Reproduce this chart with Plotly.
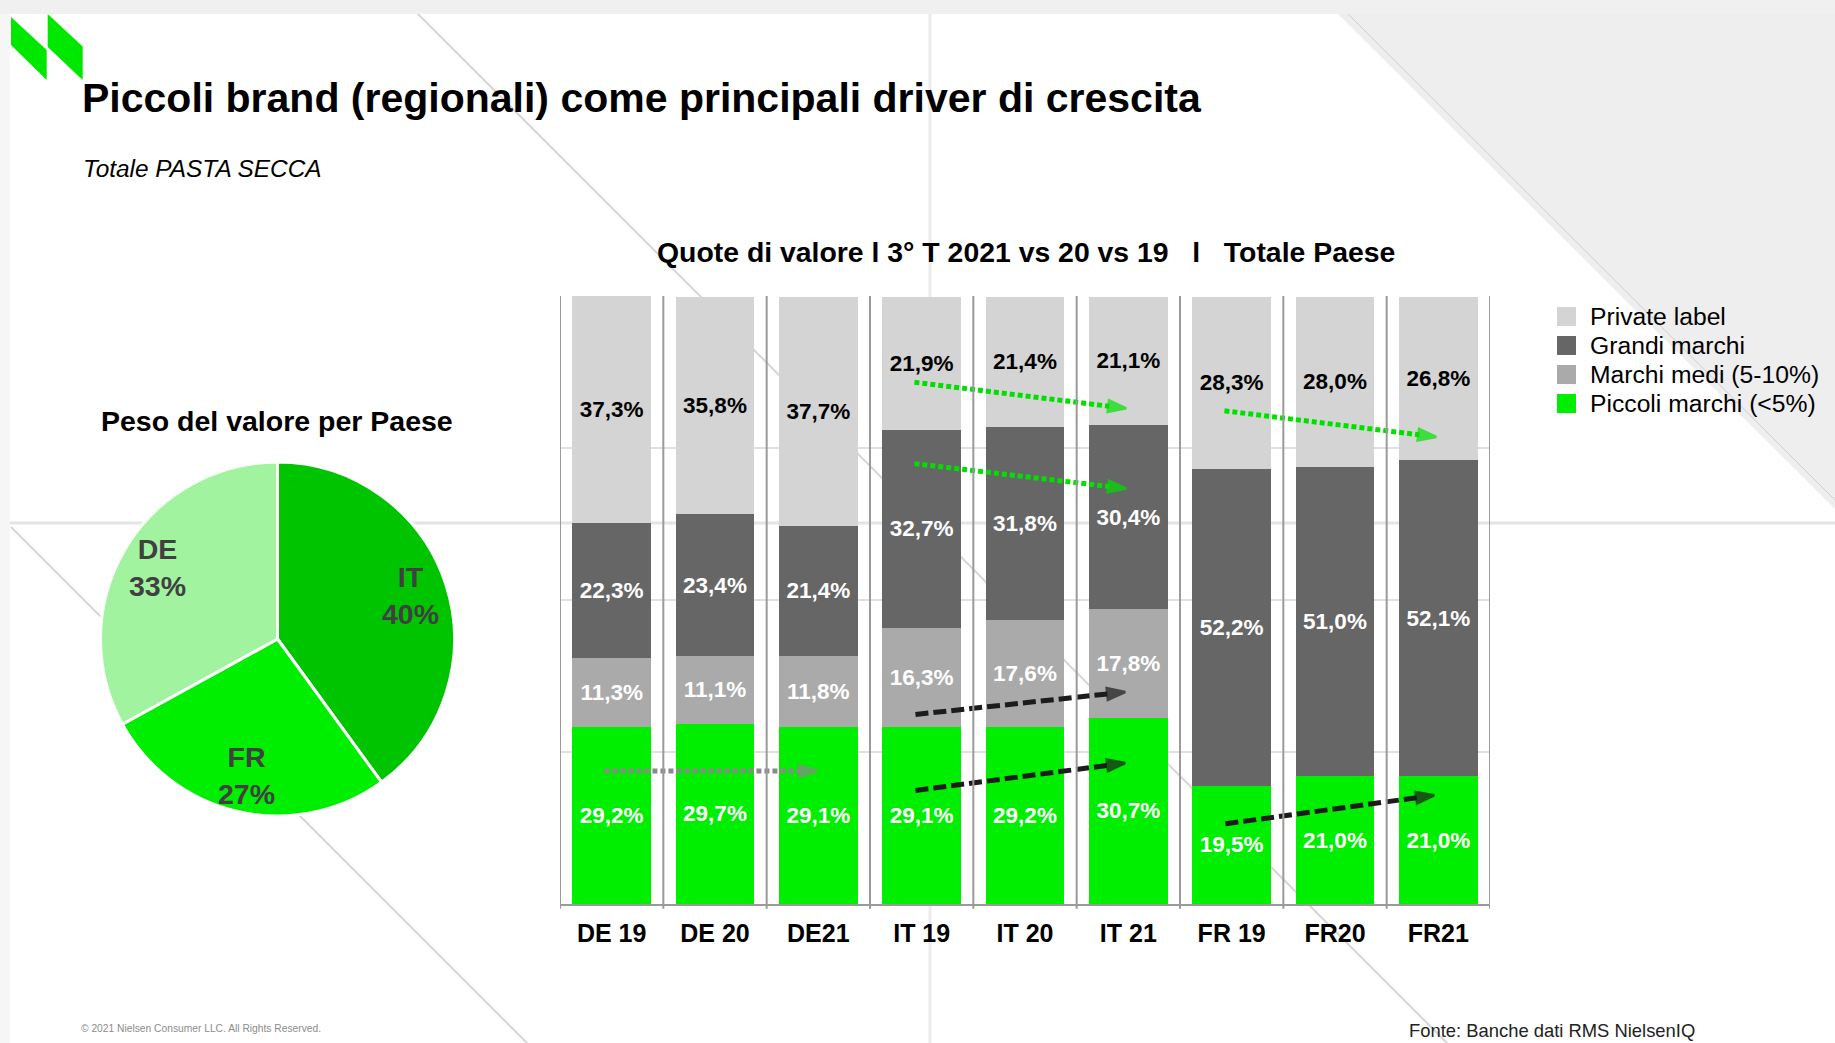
import math
import plotly.graph_objects as go

W, H = 1835, 1043
FONT = "Liberation Sans, Arial, Helvetica, sans-serif"

# ---------------- data ----------------
categories = ["DE 19", "DE 20", "DE21", "IT 19", "IT 20", "IT 21", "FR 19", "FR20", "FR21"]
series_names = ["Private label", "Grandi marchi", "Marchi medi (5-10%)", "Piccoli marchi (<5%)"]
piccoli = [29.2, 29.7, 29.1, 29.1, 29.2, 30.7, 19.5, 21.0, 21.0]
medi = [11.3, 11.1, 11.8, 16.3, 17.6, 17.8, None, None, None]
grandi = [22.3, 23.4, 21.4, 32.7, 31.8, 30.4, 52.2, 51.0, 52.1]
private = [37.3, 35.8, 37.7, 21.9, 21.4, 21.1, 28.3, 28.0, 26.8]

pie_labels = ["IT", "FR", "DE"]
pie_values = [40, 27, 33]

# trend arrows (category index, share %)
arrow_x0 = [-0.07, 2.94, 2.94, 5.94, 2.93, 2.93, 5.93]
arrow_y0 = [21.9, 31.2, 18.7, 13.2, 85.9, 72.5, 81.2]
arrow_x1 = [1.99, 4.97, 4.97, 7.96, 4.98, 4.98, 7.98]
arrow_y1 = [21.9, 34.9, 23.2, 17.9, 81.6, 68.4, 76.9]
arrow_kind = ["gray", "black", "black", "black", "green", "green", "green"]

# ---------------- styles ----------------
C_PRIV, C_GRANDI, C_MEDI, C_PICC = "#d4d4d4", "#666666", "#aaaaaa", "#00ee00"
series_colors = [C_PRIV, C_GRANDI, C_MEDI, C_PICC]
pie_colors = ["#00c400", "#00ee00", "#a2f3a0"]
arrow_styles = {
    "gray": dict(color="#8a8a8a", width=5, dash="5px,3px"),
    "black": dict(color="#1c1c1c", width=5, dash="13px,5px"),
    "green": dict(color="#00e000", width=5, dash="5px,3px"),
}


def fx(px):
    return px / W


def fy(py):
    return 1 - py / H


def fmt(v):
    return None if v is None else ("%.1f" % v).replace(".", ",") + "%"


fig = go.Figure()

xs = list(range(len(categories)))
stack = [
    (series_names[3], piccoli, C_PICC, "white"),
    (series_names[2], medi, C_MEDI, "white"),
    (series_names[1], grandi, C_GRANDI, "white"),
    (series_names[0], private, C_PRIV, "black"),
]
for name, vals, col, tcol in stack:
    fig.add_trace(go.Bar(
        x=xs, y=vals, name=name, width=0.764,
        marker=dict(color=col, line=dict(width=0)),
        text=[fmt(v) for v in vals], textposition="inside", insidetextanchor="middle",
        textangle=0, constraintext="none",
        textfont=dict(family=FONT, size=22.5, color=tcol, weight=700),
        hoverinfo="skip", showlegend=False,
    ))

for i in range(len(arrow_x0)):
    st = arrow_styles[arrow_kind[i]]
    fig.add_trace(go.Scatter(
        x=[arrow_x0[i], arrow_x1[i]], y=[arrow_y0[i], arrow_y1[i]],
        mode="lines+markers",
        line=dict(color=st["color"], width=st["width"], dash=st["dash"]),
        marker=dict(symbol="arrow", size=[0, 19], angleref="previous", color=st["color"],
                    line=dict(width=2.5, color=st["color"])),
        hoverinfo="skip", showlegend=False, cliponaxis=False,
    ))

# ---------------- pie ----------------
pcx, pcy, pr = 277.5, 639, 177
fig.add_trace(go.Pie(
    labels=pie_labels, values=pie_values, sort=False, direction="clockwise", rotation=0,
    marker=dict(colors=pie_colors, line=dict(color="white", width=3)),
    textinfo="none", hoverinfo="skip", showlegend=False,
    domain=dict(x=[fx(pcx - pr), fx(pcx + pr)], y=[fy(pcy + pr), fy(pcy - pr)]),
))

annotations = []
tot = float(sum(pie_values))
cum = 0.0
for lab, v in zip(pie_labels, pie_values):
    th = 2 * math.pi * (cum + v / 2.0) / tot
    cum += v
    lx = pcx + 0.79 * pr * math.sin(th)
    ly = pcy - 0.79 * pr * math.cos(th)
    annotations.append(dict(
        x=fx(lx), y=fy(ly), xref="paper", yref="paper", showarrow=False,
        text=f"{lab}<br>{v}%", xanchor="center", yanchor="middle", align="center",
        font=dict(family=FONT, size=28.5, color="#404040", weight=700),
    ))

# ---------------- texts ----------------
def txt(t, x, y, size, color="black", weight=400, style="normal", xanchor="left", yanchor="middle"):
    annotations.append(dict(
        x=fx(x), y=fy(y), xref="paper", yref="paper", showarrow=False, text=t,
        xanchor=xanchor, yanchor=yanchor,
        font=dict(family=FONT, size=size, color=color, weight=weight, style=style),
    ))


SP = "\u00a0\u00a0\u00a0"
txt("Piccoli brand (regionali) come principali driver di crescita", 80, 98, 41, weight=700)
txt("Totale PASTA SECCA", 81, 168, 24.4, style="italic")
txt("Quote di valore l 3° T 2021 vs 20 vs 19" + SP + "l" + SP + "Totale Paese",
    1026, 252, 28.4, weight=700, xanchor="center")
txt("Peso del valore per Paese", 277, 421, 28.5, weight=700, xanchor="center")
txt("© 2021 Nielsen Consumer LLC. All Rights Reserved.", 79, 1028, 10.25, color="#8c8c8c")
txt("Fonte: Banche dati RMS NielsenIQ", 1407, 1018, 18.4, color="#222222", yanchor="top")

# manual legend
leg_y = [316.5, 345.5, 374.5, 403.5]
shapes = []
for nm, col, ly in zip(series_names, series_colors, leg_y):
    shapes.append(dict(type="rect", xref="paper", yref="paper",
                       x0=fx(1557), x1=fx(1576), y0=fy(ly + 9.5), y1=fy(ly - 9.5),
                       fillcolor=col, line=dict(width=0), layer="above"))
    txt(nm, 1588, ly, 24.7)

# ---------------- slide decorations ----------------
def line(x0, y0, x1, y1, color, width):
    shapes.append(dict(type="line", xref="paper", yref="paper", x0=fx(x0), y0=fy(y0),
                       x1=fx(x1), y1=fy(y1), line=dict(color=color, width=width), layer="below"))


def poly(pts, color):
    path = "M " + " L ".join(f"{fx(a):.5f},{fy(b):.5f}" for a, b in pts) + " Z"
    shapes.append(dict(type="path", xref="paper", yref="paper", path=path,
                       fillcolor=color, line=dict(width=0), layer="below"))


poly([(0, 0), (W, 0), (W, 14), (0, 14)], "#f0f0f0")
poly([(0, 14), (10, 14), (10, H), (0, H)], "#f6f6f6")
poly([(1338, 14), (W, 14), (W, 509)], "#eeeeee")
line(1348, 14, W, 500, "#cfcfcf", 1)
line(10, 523, W, 523, "#e4e4e4", 3)
line(930, 14, 930, H, "#ececec", 3)
line(418, 14, 1447, H, "#d6d6d6", 2)
line(11, 527, 527, H, "#d6d6d6", 2)

# logo
poly([(11, 17), (46.7, 50), (46.7, 80), (11, 45)], "#00e800")
poly([(47.7, 14), (82.7, 46.5), (82.7, 80), (47.7, 47)], "#00e800")

# category separators (with small ticks below the axis)
for i in range(len(categories) + 1):
    shapes.append(dict(type="line", xref="x", yref="y domain", x0=i - 0.5, x1=i - 0.5,
                       y0=-0.008, y1=1, line=dict(color="#9a9a9a", width=2), layer="above"))

fig.update_layout(
    width=W, height=H, autosize=False,
    margin=dict(l=0, r=0, t=0, b=0, pad=0),
    paper_bgcolor="white", plot_bgcolor="rgba(0,0,0,0)",
    barmode="stack", showlegend=False,
    font=dict(family=FONT),
    xaxis=dict(domain=[fx(560), fx(1490)], range=[-0.5, 8.5], tickmode="array",
               tickvals=xs, ticktext=categories, ticks="", showgrid=False, zeroline=False,
               showline=True, linecolor="#9a9a9a", linewidth=2, ticklabelstandoff=6,
               tickfont=dict(family=FONT, size=25, color="black", weight=700), fixedrange=True),
    yaxis=dict(domain=[fy(904), fy(296)], range=[0, 100.1], tick0=0, dtick=25,
               showticklabels=False, ticks="", showgrid=True, gridcolor="#e0e0e0",
               gridwidth=2, zeroline=False, showline=False, fixedrange=True),
    shapes=shapes, annotations=annotations,
)

fig.write_html("out.html", config={"displayModeBar": False},
               post_script="document.body.style.margin='0';document.body.style.overflow='hidden';")
